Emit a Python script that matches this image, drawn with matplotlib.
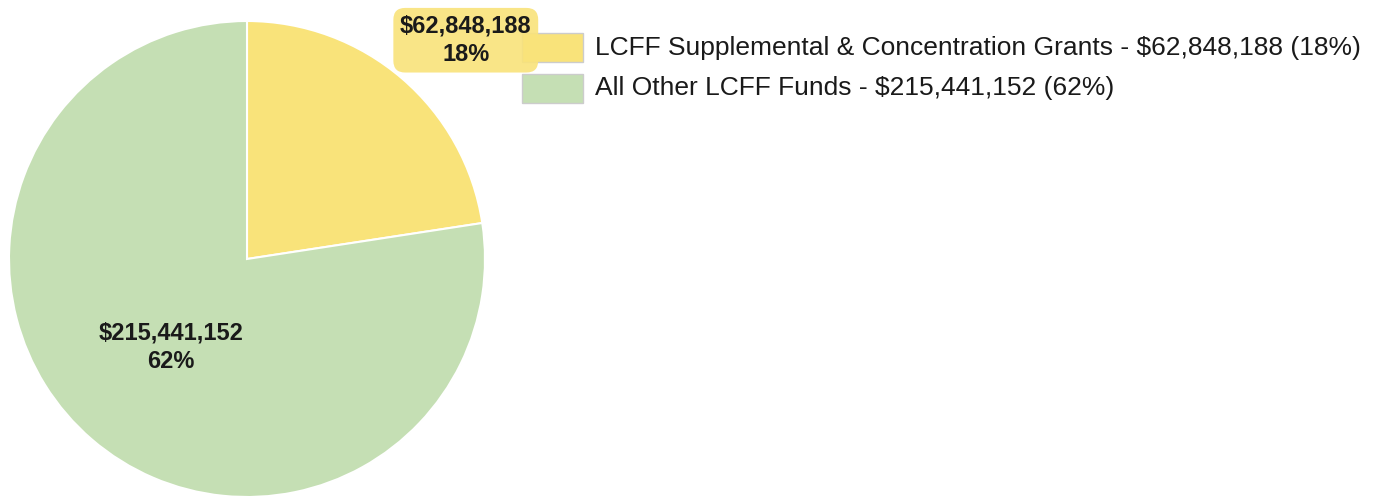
import matplotlib.pyplot as plt
from matplotlib.patches import Rectangle
import numpy as np

plt.rcParams['font.family'] = ['Liberation Sans', 'DejaVu Sans']

# data
names = ['LCFF Supplemental & Concentration Grants', 'All Other LCFF Funds']
values = [62848188, 215441152]
percents = [18, 62]
colors = ['#F9E37A', '#C5DFB4']

fig = plt.figure(figsize=(13.75, 5), dpi=100)

# pie axes: center ~ (247, 259) px, radius ~ 238 px
r_px = 238
ax = fig.add_axes([(247 - r_px) / 1375, (500 - 259 - r_px) / 500,
                   2 * r_px / 1375, 2 * r_px / 500])
wedges, _ = ax.pie(values, colors=colors, startangle=90, counterclock=False,
                   wedgeprops=dict(edgecolor='white', linewidth=1.5))
ax.set_xlim(-1, 1)
ax.set_ylim(-1, 1)
ax.set_aspect('equal')

# slice labels
for i, w in enumerate(wedges):
    mid = np.deg2rad((w.theta1 + w.theta2) / 2)
    txt = f'${values[i]:,}\n{percents[i]}%'
    if i == 0:
        # label pushed outside the small slice
        ax.text(1.3 * np.cos(np.deg2rad(45)), 1.3 * np.sin(np.deg2rad(45)), txt,
                ha='center', va='center', fontsize=17, fontweight='bold',
                color='#1a1a1a', linespacing=1.3, clip_on=False, zorder=5,
                bbox=dict(boxstyle='round,pad=0.28,rounding_size=0.5',
                          facecolor=colors[0], edgecolor='none', alpha=0.9))
    else:
        ax.text(0.49 * np.cos(mid), 0.49 * np.sin(mid), txt,
                ha='center', va='center', fontsize=17, fontweight='bold',
                color='#1a1a1a', linespacing=1.3)

# legend drawn by hand (behind the pie label box)
leg_y = [47.5, 88.5]
for i in range(len(names)):
    y = 1 - leg_y[i] / 500
    fig.patches.append(Rectangle((522 / 1375, y - 14.5 / 500), 61 / 1375, 29 / 500,
                                 transform=fig.transFigure, facecolor=colors[i],
                                 edgecolor='#cccccc', linewidth=1, zorder=-1))
    fig.text(595 / 1375, y, f'{names[i]} - ${values[i]:,} ({percents[i]}%)',
             ha='left', va='center', fontsize=19, color='#1a1a1a')

fig.savefig('out.png', dpi=100)
